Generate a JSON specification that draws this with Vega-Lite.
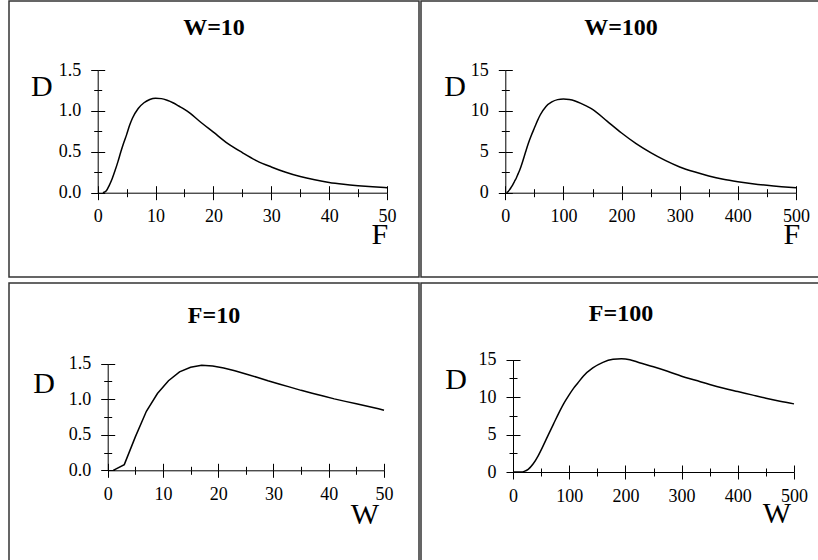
{
  "$schema": "https://vega.github.io/schema/vega-lite/v6.json",
  "padding": {"left": 8, "top": 0, "right": 0, "bottom": 0},
  "background": "white",
  "spacing": 4,
  "config": {
    "view": {"stroke": "#333", "strokeWidth": 1.5},
    "font": "Liberation Serif",
    "title": {"font": "Liberation Serif", "fontSize": 24, "fontWeight": "bold", "color": "black", "anchor": "middle", "frame": "group", "baseline": "alphabetic"},
    "axis": {
      "grid": false, "domainColor": "black", "domainWidth": 1, "tickColor": "black", "tickWidth": 1,
      "labelFont": "Liberation Serif", "labelFontSize": 18, "labelColor": "black", "labelFlush": false, "labelOverlap": false, "labelBound": false,
      "titleFont": "Liberation Serif", "titleFontSize": 30, "titleFontWeight": "normal", "titleColor": "black", "titleAngle": 0, "titleAlign": "center", "titleBaseline": "middle"
    },
    "axisX": {"labelPadding": 8},
    "axisY": {"labelPadding": 10},
    "line": {"color": "black", "strokeWidth": 1.5}
  },
  "vconcat": [
    {
      "hconcat": [
        {
          "width": 410, "height": 276,
          "title": {"text": "W=10", "offset": -39},
          "data": {"values": [
            {"F": 0.9, "D": 0}, {"F": 1.5, "D": 0.025}, {"F": 2, "D": 0.09}, {"F": 2.5, "D": 0.17}, {"F": 3, "D": 0.27},
            {"F": 3.5, "D": 0.38}, {"F": 4, "D": 0.5}, {"F": 4.5, "D": 0.61}, {"F": 5, "D": 0.71}, {"F": 5.5, "D": 0.82},
            {"F": 6, "D": 0.91}, {"F": 7, "D": 1.03}, {"F": 8, "D": 1.1}, {"F": 9, "D": 1.14}, {"F": 10, "D": 1.155},
            {"F": 11, "D": 1.15}, {"F": 12, "D": 1.13}, {"F": 13, "D": 1.1}, {"F": 14, "D": 1.06}, {"F": 15, "D": 1.02},
            {"F": 16, "D": 0.97}, {"F": 17.5, "D": 0.88}, {"F": 20, "D": 0.74}, {"F": 22.5, "D": 0.6}, {"F": 25, "D": 0.49},
            {"F": 27.5, "D": 0.39}, {"F": 30, "D": 0.315}, {"F": 32.5, "D": 0.25}, {"F": 35, "D": 0.197}, {"F": 37.5, "D": 0.157},
            {"F": 40, "D": 0.125}, {"F": 42.5, "D": 0.103}, {"F": 45, "D": 0.086}, {"F": 47.5, "D": 0.072}, {"F": 50, "D": 0.061}
          ]},
          "layer": [
            {
              "mark": {"type": "line", "interpolate": "monotone"},
              "encoding": {
                "x": {"field": "F", "type": "quantitative", "scale": {"domain": [0, 50], "range": [88.7, 378], "nice": false, "zero": false},
                  "axis": {"orient": "bottom", "offset": -84.3, "values": [0,5,10,15,20,25,30,35,40,45,50], "format": "d",
                    "labelExpr": "datum.value % 10 === 0 ? datum.label : ''",
                    "tickSize": {"condition": {"test": "datum.value % 10 === 0", "value": 7}, "value": 4},
                    "title": "F", "titleX": 370.3, "titleY": 41.3}},
                "y": {"field": "D", "type": "quantitative", "scale": {"domain": [0, 1.5], "range": [191.7, 69], "nice": false, "zero": false},
                  "axis": {"orient": "left", "offset": -88.7, "values": [0,0.25,0.5,0.75,1,1.25,1.5], "format": ".1f",
                    "labelExpr": "datum.value % 0.5 === 0 ? datum.label : ''",
                    "tickSize": {"condition": {"test": "datum.value % 0.5 === 0", "value": 7}, "value": 4},
                    "title": "D", "titleX": -56.4, "titleY": 85}}
              }
            },
            {
              "mark": {"type": "line", "opacity": 0},
              "encoding": {
                "x": {"field": "F", "type": "quantitative",
                  "axis": {"orient": "bottom", "offset": -84.3, "values": [0,5,10,15,20,25,30,35,40,45,50], "labels": false, "domain": false, "title": null,
                    "tickSize": {"condition": {"test": "datum.value % 10 === 0", "value": -7}, "value": -4}}},
                "y": {"field": "D", "type": "quantitative",
                  "axis": {"orient": "left", "offset": -88.7, "values": [0,0.25,0.5,0.75,1,1.25,1.5], "labels": false, "domain": false, "title": null,
                    "tickSize": {"condition": {"test": "datum.value % 0.5 === 0", "value": -7}, "value": -4}}}
              }
            }
          ],
          "resolve": {"axis": {"x": "independent", "y": "independent"}}
        },
        {
          "width": 400, "height": 276,
          "title": {"text": "W=100", "offset": -39},
          "data": {"values": [
            {"F": 2, "D": 0}, {"F": 5, "D": 0.15}, {"F": 7.5, "D": 0.37}, {"F": 10, "D": 0.65}, {"F": 13, "D": 1.0},
            {"F": 16, "D": 1.4}, {"F": 19, "D": 1.8}, {"F": 22, "D": 2.3}, {"F": 25, "D": 2.8}, {"F": 30, "D": 3.85},
            {"F": 35, "D": 5.0}, {"F": 40, "D": 6.1}, {"F": 45, "D": 7.05}, {"F": 50, "D": 7.9}, {"F": 55, "D": 8.75},
            {"F": 60, "D": 9.5}, {"F": 70, "D": 10.55}, {"F": 80, "D": 11.1}, {"F": 90, "D": 11.38}, {"F": 100, "D": 11.45},
            {"F": 110, "D": 11.38}, {"F": 120, "D": 11.2}, {"F": 130, "D": 10.92}, {"F": 140, "D": 10.58}, {"F": 150, "D": 10.2},
            {"F": 175, "D": 8.75}, {"F": 200, "D": 7.3}, {"F": 225, "D": 6.0}, {"F": 250, "D": 4.9}, {"F": 275, "D": 3.95},
            {"F": 300, "D": 3.15}, {"F": 325, "D": 2.55}, {"F": 350, "D": 2.05}, {"F": 375, "D": 1.65}, {"F": 400, "D": 1.35},
            {"F": 425, "D": 1.1}, {"F": 450, "D": 0.9}, {"F": 475, "D": 0.74}, {"F": 500, "D": 0.61}
          ]},
          "layer": [
            {
              "mark": {"type": "line", "interpolate": "monotone"},
              "encoding": {
                "x": {"field": "F", "type": "quantitative", "scale": {"domain": [0, 500], "range": [84.3, 375], "nice": false, "zero": false},
                  "axis": {"orient": "bottom", "offset": -84.3, "values": [0,50,100,150,200,250,300,350,400,450,500], "format": "d",
                    "labelExpr": "datum.value % 100 === 0 ? datum.label : ''",
                    "tickSize": {"condition": {"test": "datum.value % 100 === 0", "value": 7}, "value": 4},
                    "title": "F", "titleX": 370.3, "titleY": 41.6}},
                "y": {"field": "D", "type": "quantitative", "scale": {"domain": [0, 15], "range": [191.7, 69], "nice": false, "zero": false},
                  "axis": {"orient": "left", "offset": -84.3, "values": [0,2.5,5,7.5,10,12.5,15], "format": "d",
                    "labelExpr": "datum.value % 5 === 0 ? datum.label : ''",
                    "tickSize": {"condition": {"test": "datum.value % 5 === 0", "value": 7}, "value": 4},
                    "title": "D", "titleX": -50.6, "titleY": 85}}
              }
            },
            {
              "mark": {"type": "line", "opacity": 0},
              "encoding": {
                "x": {"field": "F", "type": "quantitative",
                  "axis": {"orient": "bottom", "offset": -84.3, "values": [0,50,100,150,200,250,300,350,400,450,500], "labels": false, "domain": false, "title": null,
                    "tickSize": {"condition": {"test": "datum.value % 100 === 0", "value": -7}, "value": -4}}},
                "y": {"field": "D", "type": "quantitative",
                  "axis": {"orient": "left", "offset": -84.3, "values": [0,2.5,5,7.5,10,12.5,15], "labels": false, "domain": false, "title": null,
                    "tickSize": {"condition": {"test": "datum.value % 5 === 0", "value": -7}, "value": -4}}}
              }
            }
          ],
          "resolve": {"axis": {"x": "independent", "y": "independent"}}
        }
      ],
      "spacing": 0
    },
    {
      "hconcat": [
        {
          "width": 410, "height": 280,
          "title": {"text": "F=10", "offset": -45},
          "data": {"values": [
            {"W": 1, "D": 0}, {"W": 3, "D": 0.08}, {"W": 5, "D": 0.47}, {"W": 7, "D": 0.83}, {"W": 9, "D": 1.08},
            {"W": 11, "D": 1.26}, {"W": 13, "D": 1.385}, {"W": 15, "D": 1.45}, {"W": 17, "D": 1.478}, {"W": 19, "D": 1.468},
            {"W": 21, "D": 1.44}, {"W": 23, "D": 1.4}, {"W": 25, "D": 1.355}, {"W": 27, "D": 1.31}, {"W": 29, "D": 1.26},
            {"W": 31, "D": 1.215}, {"W": 33, "D": 1.17}, {"W": 35, "D": 1.125}, {"W": 37, "D": 1.085}, {"W": 39, "D": 1.045},
            {"W": 41, "D": 1.005}, {"W": 43, "D": 0.97}, {"W": 45, "D": 0.935}, {"W": 47, "D": 0.9}, {"W": 49, "D": 0.865},
            {"W": 50, "D": 0.845}
          ]},
          "layer": [
            {
              "mark": {"type": "line"},
              "encoding": {
                "x": {"field": "W", "type": "quantitative", "scale": {"domain": [0, 50], "range": [98.7, 375], "nice": false, "zero": false},
                  "axis": {"orient": "bottom", "offset": -92.7, "values": [0,5,10,15,20,25,30,35,40,45,50], "format": "d",
                    "labelExpr": "datum.value % 10 === 0 ? datum.label : ''",
                    "tickSize": {"condition": {"test": "datum.value % 10 === 0", "value": 7}, "value": 4},
                    "title": "W", "titleX": 355.3, "titleY": 44.4}},
                "y": {"field": "D", "type": "quantitative", "scale": {"domain": [0, 1.5], "range": [187.3, 80.7], "nice": false, "zero": false},
                  "axis": {"orient": "left", "offset": -98.7, "values": [0,0.25,0.5,0.75,1,1.25,1.5], "format": ".1f",
                    "labelExpr": "datum.value % 0.5 === 0 ? datum.label : ''",
                    "tickSize": {"condition": {"test": "datum.value % 0.5 === 0", "value": 7}, "value": 4},
                    "title": "D", "titleX": -64, "titleY": 100}}
              }
            },
            {
              "mark": {"type": "line", "opacity": 0},
              "encoding": {
                "x": {"field": "W", "type": "quantitative",
                  "axis": {"orient": "bottom", "offset": -92.7, "values": [0,5,10,15,20,25,30,35,40,45,50], "labels": false, "domain": false, "title": null,
                    "tickSize": {"condition": {"test": "datum.value % 10 === 0", "value": -7}, "value": -4}}},
                "y": {"field": "D", "type": "quantitative",
                  "axis": {"orient": "left", "offset": -98.7, "values": [0,0.25,0.5,0.75,1,1.25,1.5], "labels": false, "domain": false, "title": null,
                    "tickSize": {"condition": {"test": "datum.value % 0.5 === 0", "value": -7}, "value": -4}}}
              }
            }
          ],
          "resolve": {"axis": {"x": "independent", "y": "independent"}}
        },
        {
          "width": 400, "height": 280,
          "title": {"text": "F=100", "offset": -43},
          "data": {"values": [
            {"W": 0, "D": 0}, {"W": 15, "D": 0}, {"W": 20, "D": 0.08}, {"W": 27, "D": 0.36}, {"W": 36, "D": 1.1},
            {"W": 45, "D": 2.2}, {"W": 54, "D": 3.55}, {"W": 63, "D": 5.0}, {"W": 72, "D": 6.4}, {"W": 81, "D": 7.8},
            {"W": 90, "D": 9.1}, {"W": 99, "D": 10.2}, {"W": 108, "D": 11.2}, {"W": 115, "D": 11.85}, {"W": 125, "D": 12.8},
            {"W": 142, "D": 13.9}, {"W": 160, "D": 14.65}, {"W": 178, "D": 15.05}, {"W": 193, "D": 15.13}, {"W": 208, "D": 15.0},
            {"W": 225, "D": 14.6}, {"W": 250, "D": 14.05}, {"W": 275, "D": 13.45}, {"W": 300, "D": 12.8}, {"W": 325, "D": 12.25},
            {"W": 350, "D": 11.7}, {"W": 375, "D": 11.2}, {"W": 400, "D": 10.75}, {"W": 425, "D": 10.3}, {"W": 450, "D": 9.85},
            {"W": 475, "D": 9.45}, {"W": 500, "D": 9.1}
          ]},
          "layer": [
            {
              "mark": {"type": "line", "interpolate": "monotone"},
              "encoding": {
                "x": {"field": "W", "type": "quantitative", "scale": {"domain": [0, 500], "range": [92, 373], "nice": false, "zero": false},
                  "axis": {"orient": "bottom", "offset": -91, "values": [0,50,100,150,200,250,300,350,400,450,500], "format": "d",
                    "labelExpr": "datum.value % 100 === 0 ? datum.label : ''",
                    "tickSize": {"condition": {"test": "datum.value % 100 === 0", "value": 7}, "value": 4},
                    "title": "W", "titleX": 355.3, "titleY": 41}},
                "y": {"field": "D", "type": "quantitative", "scale": {"domain": [0, 15], "range": [189, 76.7], "nice": false, "zero": false},
                  "axis": {"orient": "left", "offset": -92, "values": [0,2.5,5,7.5,10,12.5,15], "format": "d",
                    "labelExpr": "datum.value % 5 === 0 ? datum.label : ''",
                    "tickSize": {"condition": {"test": "datum.value % 5 === 0", "value": 7}, "value": 4},
                    "title": "D", "titleX": -57.3, "titleY": 96.7}}
              }
            },
            {
              "mark": {"type": "line", "opacity": 0},
              "encoding": {
                "x": {"field": "W", "type": "quantitative",
                  "axis": {"orient": "bottom", "offset": -91, "values": [0,50,100,150,200,250,300,350,400,450,500], "labels": false, "domain": false, "title": null,
                    "tickSize": {"condition": {"test": "datum.value % 100 === 0", "value": -7}, "value": -4}}},
                "y": {"field": "D", "type": "quantitative",
                  "axis": {"orient": "left", "offset": -92, "values": [0,2.5,5,7.5,10,12.5,15], "labels": false, "domain": false, "title": null,
                    "tickSize": {"condition": {"test": "datum.value % 5 === 0", "value": -7}, "value": -4}}}
              }
            }
          ],
          "resolve": {"axis": {"x": "independent", "y": "independent"}}
        }
      ],
      "spacing": 0
    }
  ]
}
